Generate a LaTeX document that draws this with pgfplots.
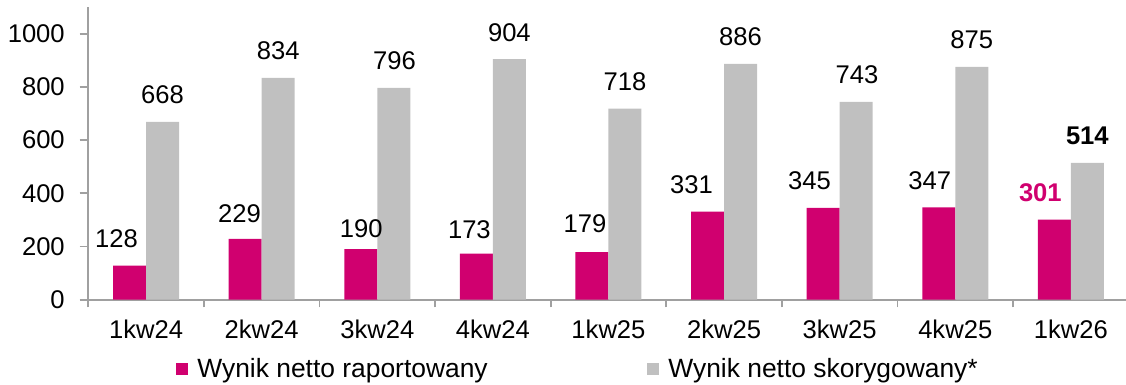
\documentclass[border=0pt]{standalone}
\usepackage{pgfplots}
\pgfplotsset{compat=1.18}
\usepackage{pgfplotstable}
\usepackage{fontspec}
\setmainfont{Liberation Sans}

\definecolor{barmag}{HTML}{D0006F}
\definecolor{bargray}{HTML}{C0C0C0}
\definecolor{axgray}{HTML}{A0A0A0}

\newcommand{\chartfont}{\fontsize{12.8}{15.4}\selectfont}
\newcommand{\legendfont}{\fontsize{13.2}{15.8}\selectfont}

% quarter, value, label shift x / y (pt), highlight flag
\pgfplotstableread{
x  y    dx    dy     b
0  128  -6.5   0     0
1  229  -2.8  -0.85  0
2  190   0.25 -3.35  0
3  173  -3.5  -1.35  0
4  179  -3.5   0.95  0
5  331  -8     0     0
6  345  -6.8   0     0
7  347  -4.5   0     0
8  301  -7     0     1
}\raportowany

\pgfplotstableread{
x  y    dx    dy     b
0  668   0     0     0
1  834   0     0     0
2  796   0.4   0     0
3  904   0     0     0
4  718   0     0     0
5  886   0     0     0
6  743   0.45  0     0
7  875   0     0     0
8  514   0     0     2
}\skorygowany

% highlighted labels: 1 = bold magenta, 2 = bold black
\newcommand{\barlabel}{%
  \ifdim\isbold pt>1.5pt \bfseries\else
  \ifdim\isbold pt>0.5pt \color{barmag}\bfseries\fi\fi
  \pgfmathprintnumber{\pgfplotspointmeta}}

\begin{document}
\begin{tikzpicture}
\begin{axis}[
  scale only axis,
  width=518.85pt, height=146.35pt,
  xmin=-0.5, xmax=8.477,
  ymin=0, ymax=1100,
  axis lines*=left,
  axis line style={axgray, line width=0.9pt},
  ybar=0pt, bar width=16.5pt,
  xtick={0,...,8},
  xticklabels={1kw24,2kw24,3kw24,4kw24,1kw25,2kw25,3kw25,4kw25,1kw26},
  minor xtick={-0.5,0.5,...,8.5},
  major x tick style={draw=none},
  ytick={0,200,...,1000},
  tick align=outside,
  major tick length=4.35pt,
  minor tick length=3.85pt,
  tick style={axgray, line width=0.9pt},
  /pgf/number format/assume math mode=true,
  /pgf/number format/1000 sep={},
  ticklabel style={font=\chartfont, text=black},
  yticklabel style={xshift=-3.9pt},
  xticklabel style={yshift=-2.4pt},
  visualization depends on={\thisrow{dx} \as \dx},
  visualization depends on={\thisrow{dy} \as \dy},
  visualization depends on={\thisrow{b} \as \isbold},
  nodes near coords={\barlabel},
  every node near coord/.append style={font=\chartfont, text=black, anchor=base,
    inner sep=0pt, xshift=\dx pt, yshift=9pt+\dy pt},
  legend columns=2,
  legend style={draw=none, fill=none, font=\legendfont,
    at={(0,0)}, anchor=west, xshift=43.85pt, yshift=-34.65pt,
    inner sep=0pt, row sep=0pt},
  legend cell align=left,
]
\addplot[fill=barmag, draw=none,
  legend image code/.code={\fill[barmag] (0pt,-3pt) rectangle (6pt,3pt);}]
  table[x=x, y=y] {\raportowany};
\addlegendentry{\hspace*{2.5pt}\makebox[223pt][l]{Wynik netto raportowany}}
\addplot[fill=bargray, draw=none,
  legend image code/.code={\fill[bargray] (0pt,-3pt) rectangle (6pt,3pt);}]
  table[x=x, y=y] {\skorygowany};
\addlegendentry{\hspace*{2.5pt}Wynik netto skorygowany*}
\end{axis}
\pgfresetboundingbox
\path[use as bounding box] (-44.15pt,-42.65pt) rectangle (518.85pt,149.85pt);
\end{tikzpicture}
\end{document}
